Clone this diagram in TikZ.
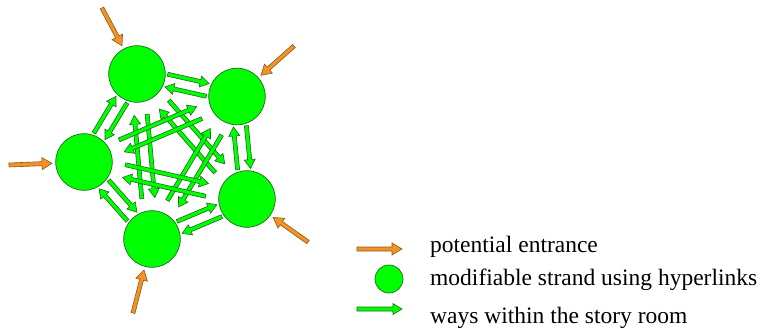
\documentclass[tikz,border=0pt]{standalone}
\usepackage{fontspec}
\setmainfont{Liberation Serif}
\usetikzlibrary{calc}
\definecolor{gfill}{HTML}{00FF00}
\definecolor{gline}{HTML}{1E6A1E}
\definecolor{ofill}{HTML}{F39226}
\definecolor{oline}{HTML}{8A5A1A}
\tikzset{
  strand/.style={circle, draw=gline, fill=gfill, line width=0.7pt, minimum size=56.6pt, inner sep=0pt},
  smallstrand/.style={circle, draw=gline, fill=gfill, line width=0.7pt, minimum size=28pt, inner sep=0pt},
  waystyle/.style={draw=gline, fill=gfill, line width=0.6pt, line join=miter},
  entrystyle/.style={draw=oline, fill=ofill, line width=0.6pt, line join=miter},
  legendtext/.style={anchor=base west, font=\fontsize{23.5}{28}\selectfont, inner sep=0pt}
}
% #1 style, #2 from, #3 to, #4 half shaft, #5 half head, #6 head length
\newcommand{\blockarrow}[6]{%
  \coordinate (ba-hb) at ($(#3)!#6!(#2)$);
  \path[#1] ($(#2)!#4!90:(#3)$) -- ($(ba-hb)!#4!90:(#3)$) -- ($(ba-hb)!#5!90:(#3)$)
    -- (#3) -- ($(ba-hb)!#5!-90:(#3)$) -- ($(ba-hb)!#4!-90:(#3)$) -- ($(#2)!#4!-90:(#3)$) -- cycle;}
% way between two strands: #1 from, #2 to, #3 distance from centres
\newcommand{\way}[3]{%
  \coordinate (wa-s) at ($ ($(#1)!#3!(#2)$) !6.5pt!90:(#2) $);
  \coordinate (wa-e) at ($ ($(#2)!#3!(#1)$) !6.5pt!-90:(#1) $);
  \blockarrow{waystyle}{wa-s}{wa-e}{2pt}{5.5pt}{9pt}}
% entrance: #1 tail coordinate, #2 strand
\newcommand{\entrance}[2]{%
  \coordinate (en-t) at ($(#2)!32pt!(#1)$);
  \blockarrow{entrystyle}{#1}{en-t}{2pt}{6pt}{10pt}}

\begin{document}
\begin{tikzpicture}[x=1pt,y=-1pt]
\useasboundingbox (0,0) rectangle (764,329);

\node[strand] (A) at (137,74) {};
\node[strand] (B) at (237,96.5) {};
\node[strand] (C) at (84,162) {};
\node[strand] (D) at (247,199) {};
\node[strand] (E) at (152,239) {};

% ways between neighbouring strands
\way{A}{B}{30pt} \way{B}{A}{30pt}
\way{B}{D}{30pt} \way{D}{B}{30pt}
\way{D}{E}{30pt} \way{E}{D}{30pt}
\way{E}{C}{30pt} \way{C}{E}{30pt}
\way{C}{A}{30pt} \way{A}{C}{30pt}
% ways across the room
\way{A}{D}{41pt} \way{D}{A}{41pt}
\way{A}{E}{41pt} \way{E}{A}{41pt}
\way{B}{C}{41pt} \way{C}{B}{41pt}
\way{B}{E}{41pt} \way{E}{B}{41pt}
\way{C}{D}{41pt} \way{D}{C}{41pt}

% entrances
\coordinate (tA) at (102,8);
\coordinate (tB) at (294,46);
\coordinate (tC) at (9,165);
\coordinate (tD) at (308,242);
\coordinate (tE) at (133,313);
\entrance{tA}{A}
\entrance{tB}{B}
\entrance{tC}{C}
\entrance{tD}{D}
\entrance{tE}{E}

% legend
\coordinate (l1s) at (357,249); \coordinate (l1e) at (402,249);
\blockarrow{entrystyle}{l1s}{l1e}{2pt}{6pt}{10pt}
\node[smallstrand] (l2) at (389,279) {};
\coordinate (l3s) at (357,309); \coordinate (l3e) at (402,309);
\blockarrow{waystyle}{l3s}{l3e}{2pt}{5.5pt}{9pt}

\node[legendtext] (t1) at (430,252) {potential entrance};
\node[legendtext] (t2) at (430,285) {modifiable strand using hyperlinks};
\node[legendtext] (t3) at (430,323) {ways within the story room};
\end{tikzpicture}
\end{document}
